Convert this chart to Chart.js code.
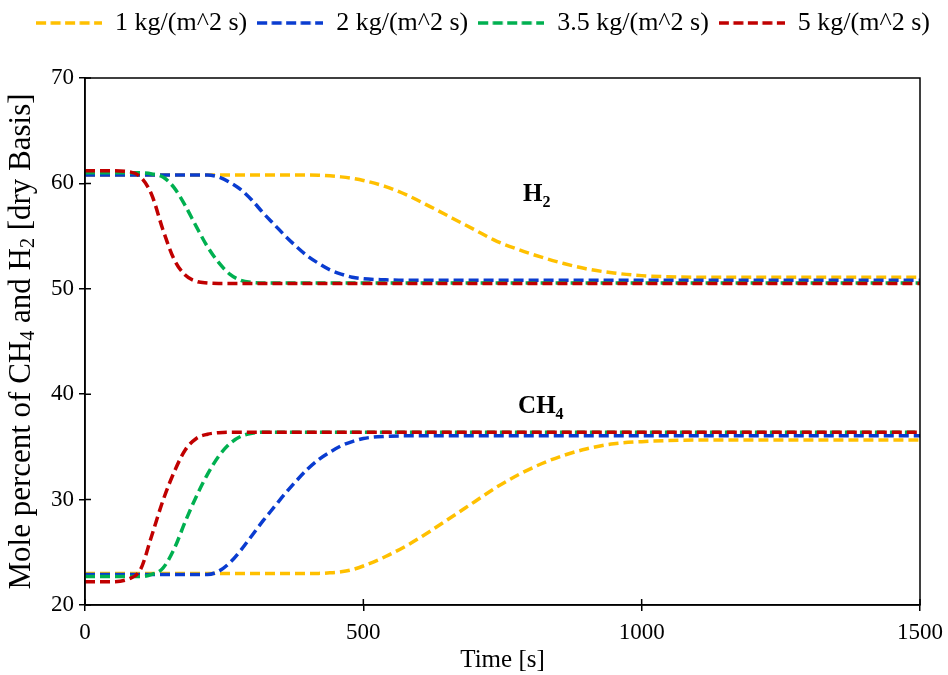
<!DOCTYPE html>
<html>
<head>
<meta charset="utf-8">
<script src="https://cdn.jsdelivr.net/npm/chart.js@4.4.0/dist/chart.umd.min.js"></script>
<style>
  html, body { margin: 0; padding: 0; background: #fff; }
  #wrap { width: 948px; height: 675px; }
</style>
</head>
<body>
<div id="wrap"><canvas id="molChart"></canvas></div>
<script>
// time grid [s]
var time = [0, 40, 80, 100, 120, 140, 160, 180, 200, 220, 240, 260, 280, 300, 320, 340, 360, 380, 400, 420,
            440, 460, 480, 500, 540, 580, 620, 660, 700, 740, 780, 820, 860, 900, 950, 1000, 1100, 1200, 1300, 1400, 1500];

// H2 mole percent, dry basis
var h2Flux1 = [60.8, 60.8, 60.8, 60.8, 60.8, 60.8, 60.8, 60.8, 60.8, 60.8, 60.8, 60.8, 60.8, 60.8, 60.8, 60.8, 60.8, 60.8, 60.8, 60.78,
               60.72, 60.62, 60.48, 60.28, 59.7, 58.85, 57.8, 56.7, 55.6, 54.5, 53.7, 53.0, 52.4, 51.9, 51.5, 51.25, 51.1, 51.1, 51.1, 51.1, 51.1];
var h2Flux2 = [60.8, 60.8, 60.8, 60.8, 60.8, 60.8, 60.8, 60.8, 60.8, 60.8, 60.6, 60.1, 59.4, 58.4, 57.2, 56.1, 55.0, 54.0, 53.1, 52.4,
               51.8, 51.4, 51.1, 50.95, 50.85, 50.8, 50.8, 50.8, 50.8, 50.8, 50.8, 50.8, 50.8, 50.8, 50.8, 50.8, 50.8, 50.8, 50.8, 50.8, 50.8];
var h2Flux35 = [61.0, 61.0, 61.0, 61.0, 60.9, 60.6, 59.6, 57.9, 55.9, 54.0, 52.5, 51.4, 50.8, 50.6, 50.55, 50.55, 50.55, 50.55, 50.55, 50.55,
                50.55, 50.55, 50.55, 50.55, 50.55, 50.55, 50.55, 50.55, 50.55, 50.55, 50.55, 50.55, 50.55, 50.55, 50.55, 50.55, 50.55, 50.55, 50.55, 50.55, 50.55];
var h2Flux5 = [61.2, 61.2, 61.1, 60.6, 58.9, 55.6, 52.8, 51.3, 50.7, 50.55, 50.5, 50.5, 50.5, 50.5, 50.5, 50.5, 50.5, 50.5, 50.5, 50.5,
               50.5, 50.5, 50.5, 50.5, 50.5, 50.5, 50.5, 50.5, 50.5, 50.5, 50.5, 50.5, 50.5, 50.5, 50.5, 50.5, 50.5, 50.5, 50.5, 50.5, 50.5];

// CH4 mole percent, dry basis
var ch4Flux1 = [23.0, 23.0, 23.0, 23.0, 23.0, 23.0, 23.0, 23.0, 23.0, 23.0, 23.0, 23.0, 23.0, 23.0, 23.0, 23.0, 23.0, 23.0, 23.0, 23.0,
                23.05, 23.15, 23.35, 23.7, 24.6, 25.7, 27.0, 28.4, 29.8, 31.2, 32.4, 33.4, 34.2, 34.8, 35.3, 35.5, 35.65, 35.65, 35.65, 35.65, 35.65];
var ch4Flux2 = [22.9, 22.9, 22.9, 22.9, 22.9, 22.9, 22.9, 22.9, 22.9, 22.9, 23.2, 24.0, 25.2, 26.6, 28.0, 29.3, 30.6, 31.8, 32.9, 33.8,
                34.5, 35.1, 35.5, 35.8, 36.0, 36.05, 36.05, 36.05, 36.05, 36.05, 36.05, 36.05, 36.05, 36.05, 36.05, 36.05, 36.05, 36.05, 36.05, 36.05, 36.05];
var ch4Flux35 = [22.7, 22.7, 22.7, 22.7, 22.9, 23.5, 25.3, 27.9, 30.3, 32.4, 34.1, 35.3, 36.0, 36.3, 36.4, 36.4, 36.4, 36.4, 36.4, 36.4,
                 36.4, 36.4, 36.4, 36.4, 36.4, 36.4, 36.4, 36.4, 36.4, 36.4, 36.4, 36.4, 36.4, 36.4, 36.4, 36.4, 36.4, 36.4, 36.4, 36.4, 36.4];
var ch4Flux5 = [22.2, 22.2, 22.5, 23.4, 26.6, 29.9, 32.6, 34.7, 35.8, 36.2, 36.35, 36.4, 36.4, 36.4, 36.4, 36.4, 36.4, 36.4, 36.4, 36.4,
                36.4, 36.4, 36.4, 36.4, 36.4, 36.4, 36.4, 36.4, 36.4, 36.4, 36.4, 36.4, 36.4, 36.4, 36.4, 36.4, 36.4, 36.4, 36.4, 36.4, 36.4];

var fluxLabels = ['1 kg/(m^2 s)', '2 kg/(m^2 s)', '3.5 kg/(m^2 s)', '5 kg/(m^2 s)'];
var fluxColors = ['#FFC000', '#0A3CD0', '#00B050', '#C00000'];
var xTicks = [0, 500, 1000, 1500];
var yTicks = [20, 30, 40, 50, 60, 70];

// species tags placed in data units (time, percent)
var speciesTags = [
  { main: 'H', sub: '2', t: 787, v: 58.3 },
  { main: 'CH', sub: '4', t: 778, v: 38.2 }
];

var SERIF = "'Liberation Serif', 'Times New Roman', serif";
Chart.defaults.font.family = SERIF;
Chart.defaults.color = '#000';

function points(vals) {
  return time.map(function (t, i) { return { x: t, y: vals[i] }; });
}

// small dashed swatch for each legend entry
var SWATCH_W = 66;
function dashSwatch(color) {
  var c = document.createElement('canvas');
  c.width = SWATCH_W; c.height = 6;
  var g = c.getContext('2d');
  g.strokeStyle = color;
  g.lineWidth = 3.5;
  g.setLineDash([10, 4.5]);
  g.beginPath(); g.moveTo(0, 3); g.lineTo(SWATCH_W, 3); g.stroke();
  return c;
}
var swatches = fluxColors.map(dashSwatch);

var h2Sets = [h2Flux1, h2Flux2, h2Flux35, h2Flux5];
var ch4Sets = [ch4Flux1, ch4Flux2, ch4Flux35, ch4Flux5];
var datasets = [];
fluxLabels.forEach(function (lbl, k) {
  [h2Sets[k], ch4Sets[k]].forEach(function (vals, j) {
    datasets.push({
      label: lbl,
      data: points(vals),
      borderColor: fluxColors[k],
      backgroundColor: fluxColors[k],
      borderWidth: 3.5,
      borderDash: [10, 5],
      pointRadius: 0,
      cubicInterpolationMode: 'monotone',
      fill: false,
      order: 4 - k,          // higher flux drawn on top
      fluxIndex: k,
      inLegend: j === 0
    });
  });
});

// text with one subscript run, e.g. CH4
function richText(ctx, parts, x, y, size, weight, align) {
  var subSize = Math.round(size * 0.65);
  var w = 0;
  parts.forEach(function (p) {
    ctx.font = weight + ' ' + (p.sub ? subSize : size) + 'px ' + SERIF;
    p.w = ctx.measureText(p.text).width;
    w += p.w;
  });
  var cx = align === 'center' ? x - w / 2 : x;
  parts.forEach(function (p) {
    ctx.font = weight + ' ' + (p.sub ? subSize : size) + 'px ' + SERIF;
    ctx.fillText(p.text, cx, p.sub ? y + size * 0.22 : y);
    cx += p.w;
  });
}

var framePlugin = {
  id: 'framePlugin',
  afterInit: function (chart) {
    // keep the legend row at the top and leave room below it
    var fit = chart.legend.fit;
    chart.legend.fit = function () { fit.call(this); this.height = 78; };
  },
  afterDraw: function (chart) {
    var ctx = chart.ctx, a = chart.chartArea;
    var xs = chart.scales.x, ys = chart.scales.y;
    ctx.save();
    ctx.strokeStyle = '#000';
    ctx.lineWidth = 1.5;
    ctx.strokeRect(a.left, a.top, a.right - a.left, a.bottom - a.top);
    // inner half of the tick marks
    ctx.beginPath();
    xs.ticks.forEach(function (t) {
      var px = xs.getPixelForValue(t.value);
      ctx.moveTo(px, a.bottom); ctx.lineTo(px, a.bottom - 6);
    });
    ys.ticks.forEach(function (t) {
      var py = ys.getPixelForValue(t.value);
      ctx.moveTo(a.left, py); ctx.lineTo(a.left + 6, py);
    });
    ctx.stroke();

    ctx.fillStyle = '#000';
    ctx.textBaseline = 'alphabetic';
    ctx.textAlign = 'left';
    speciesTags.forEach(function (tag) {
      richText(ctx, [{ text: tag.main }, { text: tag.sub, sub: true }],
               xs.getPixelForValue(tag.t), ys.getPixelForValue(tag.v), 25, 'bold', 'left');
    });

    // y axis title with subscripts
    ctx.translate(22, (a.top + a.bottom) / 2);
    ctx.rotate(-Math.PI / 2);
    ctx.textBaseline = 'middle';
    richText(ctx, [
      { text: 'Mole percent of CH' }, { text: '4', sub: true },
      { text: ' and H' }, { text: '2', sub: true },
      { text: ' [dry Basis]' }
    ], 0, 0, 31, 'normal', 'center');
    ctx.restore();
  }
};

new Chart(document.getElementById('molChart'), {
  type: 'line',
  data: { datasets: datasets },
  plugins: [framePlugin],
  options: {
    responsive: true,
    maintainAspectRatio: false,
    animation: false,
    layout: { padding: { left: 18, top: 0, right: 0, bottom: 0 } },
    plugins: {
      tooltip: { enabled: false },
      legend: {
        position: 'top',
        labels: {
          usePointStyle: true,
          pointStyleWidth: SWATCH_W,
          padding: 10,
          color: '#000',
          font: { size: 26 },
          generateLabels: function (chart) {
            var items = Chart.defaults.plugins.legend.labels.generateLabels(chart);
            items.forEach(function (it) {
              it.pointStyle = swatches[chart.data.datasets[it.datasetIndex].fluxIndex];
            });
            return items;
          },
          filter: function (item, data) { return data.datasets[item.datasetIndex].inLegend; },
          sort: function (a, b) { return a.datasetIndex - b.datasetIndex; }
        }
      }
    },
    scales: {
      x: {
        type: 'linear',
        min: 0,
        max: 1500,
        afterBuildTicks: function (s) { s.ticks = xTicks.map(function (v) { return { value: v }; }); },
        afterFit: function (s) { s.height = 70; s.paddingLeft = 0; s.paddingRight = 0; },
        grid: { display: true, drawOnChartArea: false, tickLength: 6, color: '#000', lineWidth: 1.5 },
        border: { display: true, color: '#000', width: 1.5 },
        ticks: { padding: 8, maxRotation: 0, font: { size: 23 }, callback: function (v) { return String(v); } },
        title: { display: true, text: 'Time [s]', font: { size: 25, lineHeight: 1.2 }, padding: { top: 0, bottom: 0 } }
      },
      y: {
        type: 'linear',
        min: 20,
        max: 70,
        afterBuildTicks: function (s) { s.ticks = yTicks.map(function (v) { return { value: v }; }); },
        afterFit: function (s) { s.width = 67; },
        grid: { display: true, drawOnChartArea: false, tickLength: 6, color: '#000', lineWidth: 1.5 },
        border: { display: true, color: '#000', width: 1.5 },
        ticks: { padding: 5, font: { size: 23 }, callback: function (v) { return String(v); } }
      },
      yRight: {
        type: 'linear',
        position: 'right',
        display: true,
        afterFit: function (s) { s.width = 28; },
        grid: { display: false },
        border: { display: false },
        ticks: { display: false }
      }
    }
  }
});
</script>
</body>
</html>
